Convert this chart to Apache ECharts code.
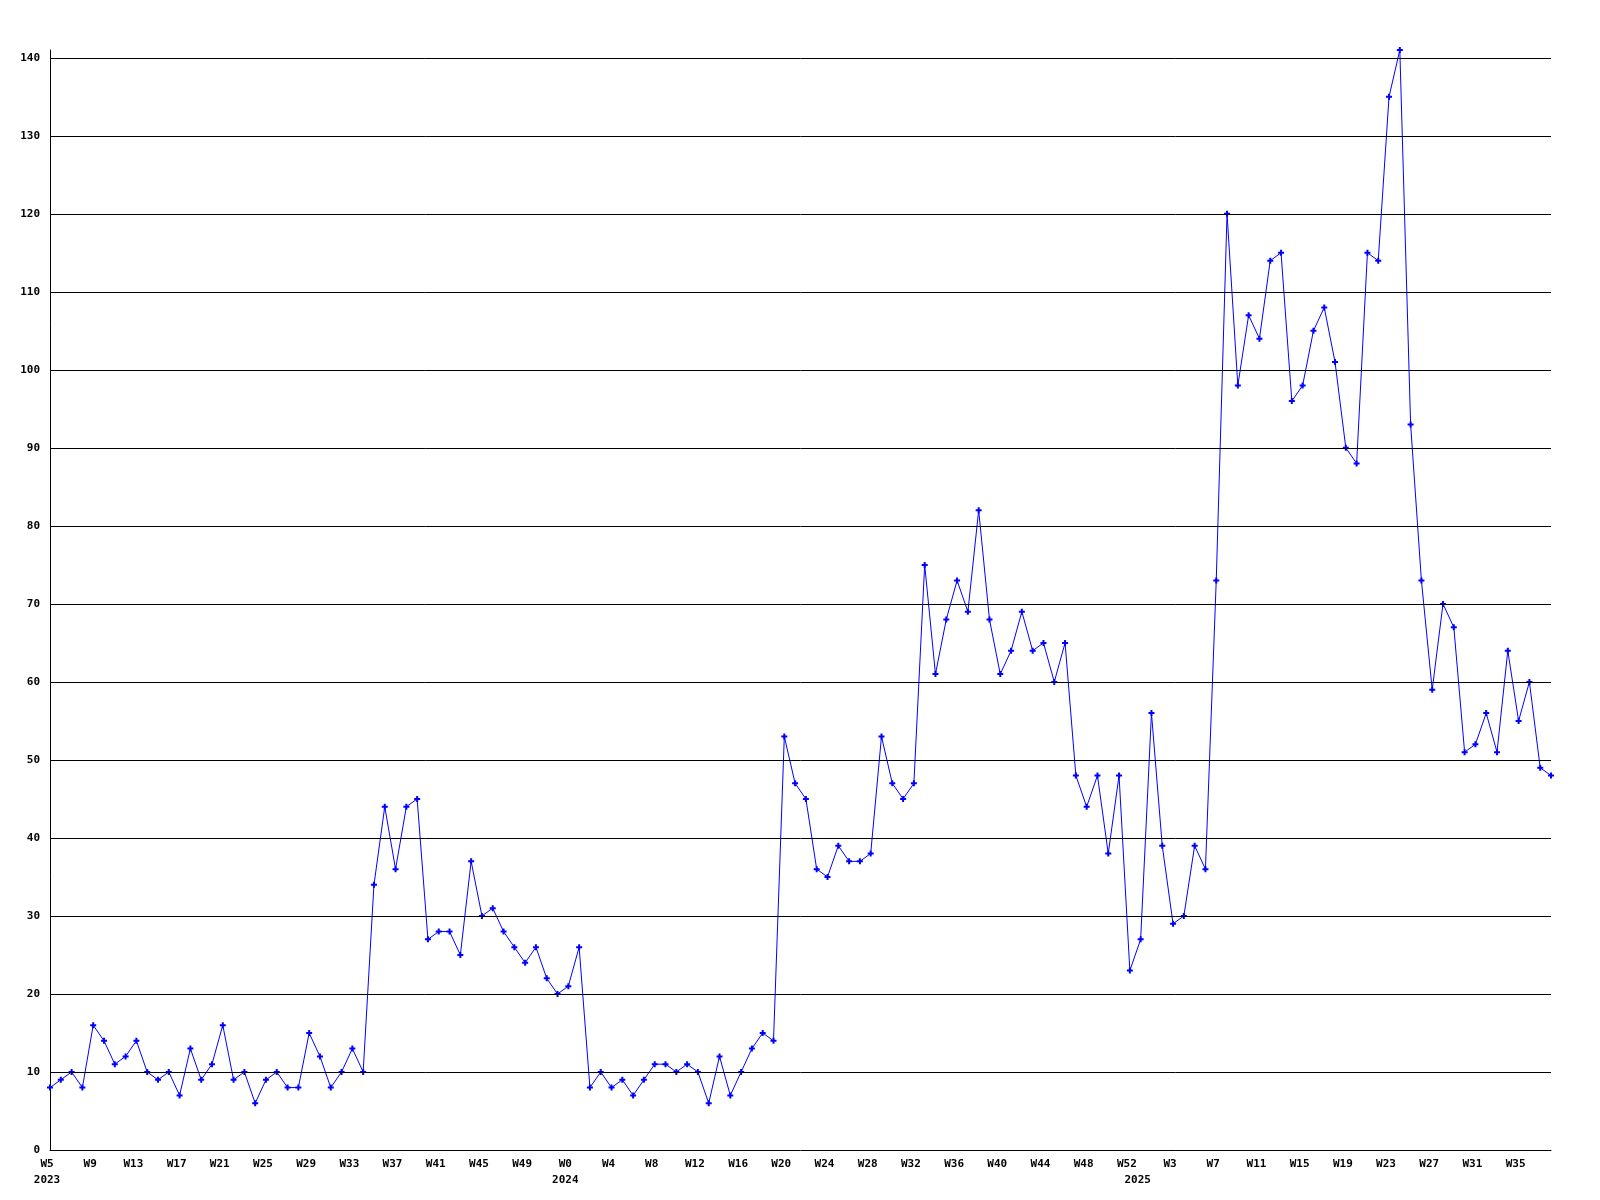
<!DOCTYPE html>
<html>
<head>
<meta charset="utf-8">
<script src="https://cdn.jsdelivr.net/npm/echarts@6/dist/echarts.min.js"></script>
<style>
  html, body { margin: 0; padding: 0; background: #ffffff; }
  #chart { width: 1600px; height: 1200px; }
</style>
</head>
<body>
<div id="chart"></div>
<script>
// ---- Data ----
// Week ranges per year (weeks shown on the category axis)
const years = [2023, 2024, 2025];
const firstWeeks = [5, 0, 0];
const lastWeeks = [52, 52, 38];

// Weekly values (one per week, in order)
const values2023 = [8, 9, 10, 8, 16, 14, 11, 12, 14, 10,
  9, 10, 7, 13, 9, 11, 16, 9, 10, 6,
  9, 10, 8, 8, 15, 12, 8, 10, 13, 10,
  34, 44, 36, 44, 45, 27, 28, 28, 25, 37,
  30, 31, 28, 26, 24, 26, 22, 20];
const values2024 = [21, 26,
  8, 10, 8, 9, 7, 9, 11, 11, 10, 11,
  10, 6, 12, 7, 10, 13, 15, 14, 53, 47,
  45, 36, 35, 39, 37, 37, 38, 53, 47, 45,
  47, 75, 61, 68, 73, 69, 82, 68, 61, 64,
  69, 64, 65, 60, 65, 48, 44, 48, 38, 48,
  23];
const values2025 = [27, 56, 39, 29, 30, 39, 36, 73, 120,
  98, 107, 104, 114, 115, 96, 98, 105, 108, 101,
  90, 88, 115, 114, 135, 141, 93, 73, 59, 70,
  67, 51, 52, 56, 51, 64, 55, 60, 49, 48];

// Y axis tick values
const yTicks = [0, 10, 20, 30, 40, 50, 60, 70, 80, 90, 100, 110, 120, 130, 140];
const yMax = 141;
const xLabelStep = 4;

// ---- Build categories ----
const categories = [];
const catWeek = [];
const catYear = [];
const yearStartIdx = {};
years.forEach((y, i) => {
  for (let w = firstWeeks[i]; w <= lastWeeks[i]; w++) {
    if (!(y in yearStartIdx)) yearStartIdx[y] = categories.length;
    categories.push(y + '-W' + w);
    catWeek.push('W' + w);
    catYear.push(y);
  }
});
const values = values2023.concat(values2024, values2025);
const yearStarts = new Set(Object.values(yearStartIdx));

const font = { fontFamily: 'DejaVu Sans Mono', fontWeight: 'bold', fontSize: 11, color: '#000' };
const plusMarker = 'path://M2,0H4V2H6V4H4V6H2V4H0V2H2Z';

const chart = echarts.init(document.getElementById('chart'), null, { renderer: 'canvas' });
chart.setOption({
  animation: false,
  backgroundColor: '#ffffff',
  grid: { left: 50, right: 49, top: 50, bottom: 50, containLabel: false },
  xAxis: {
    type: 'category',
    data: categories,
    boundaryGap: false,
    axisLine: { show: true, lineStyle: { color: '#000', width: 1 } },
    axisTick: { show: false },
    splitLine: { show: false },
    axisLabel: Object.assign({}, font, {
      margin: 6,
      lineHeight: 16,
      verticalAlign: 'top',
      padding: [0, 6, 0, 0],
      interval: function (index) {
        return index % xLabelStep === 0 || yearStarts.has(index);
      },
      formatter: function (value, index) {
        const showWeek = index % xLabelStep === 0;
        const wk = showWeek ? catWeek[index] : ' ';
        if (yearStarts.has(index)) return wk + '\n' + catYear[index];
        return wk;
      }
    })
  },
  yAxis: {
    type: 'value',
    min: 0,
    max: yMax,
    interval: 10,
    axisLine: { show: true, lineStyle: { color: '#000', width: 1 } },
    axisTick: { show: false },
    splitLine: { show: false },
    axisLabel: Object.assign({}, font, {
      margin: 10,
      showMaxLabel: false,
      formatter: function (v) { return yTicks.indexOf(v) >= 0 ? String(v) : ''; }
    })
  },
  series: [
    {
      type: 'line',
      data: [],
      z: 1,
      silent: true,
      markLine: {
        silent: true,
        symbol: ['none', 'none'],
        label: { show: false },
        lineStyle: { color: '#000', width: 1, type: 'solid' },
        emphasis: { disabled: true },
        data: yTicks.filter(v => v > 0).map(v => ({ yAxis: v }))
      }
    },
    {
      type: 'line',
      data: values,
      z: 3,
      showAllSymbol: true,
      symbol: plusMarker,
      symbolSize: 6,
      lineStyle: { color: '#0000ff', width: 1 },
      itemStyle: { color: '#0000ff' },
      emphasis: { disabled: true }
    }
  ]
});
</script>
</body>
</html>
